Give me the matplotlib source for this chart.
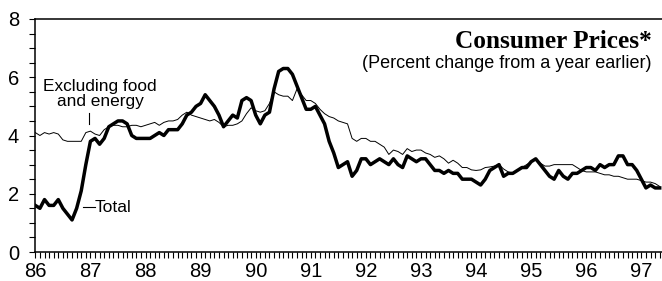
import numpy as np
import matplotlib
matplotlib.use("Agg")
import matplotlib.pyplot as plt
from matplotlib.ticker import MultipleLocator, FixedLocator
from matplotlib.lines import Line2D

# Monthly data, starting April 1986 (index 0) through August 1997
start_label = "1986-04"
total = [1.6, 1.5, 1.8, 1.6, 1.6, 1.8, 1.5, 1.3, 1.1,
         1.5, 2.1, 3.0, 3.8, 3.9, 3.7, 3.9, 4.3, 4.4, 4.5, 4.5, 4.4,
         4.0, 3.9, 3.9, 3.9, 3.9, 4.0, 4.1, 4.0, 4.2, 4.2, 4.2, 4.4,
         4.7, 4.8, 5.0, 5.1, 5.4, 5.2, 5.0, 4.7, 4.3, 4.5, 4.7, 4.6,
         5.2, 5.3, 5.2, 4.7, 4.4, 4.7, 4.8, 5.6, 6.2, 6.3, 6.3, 6.1,
         5.7, 5.3, 4.9, 4.9, 5.0, 4.7, 4.4, 3.8, 3.4, 2.9, 3.0, 3.1,
         2.6, 2.8, 3.2, 3.2, 3.0, 3.1, 3.2, 3.1, 3.0, 3.2, 3.0, 2.9,
         3.3, 3.2, 3.1, 3.2, 3.2, 3.0, 2.8, 2.8, 2.7, 2.8, 2.7, 2.7,
         2.5, 2.5, 2.5, 2.4, 2.3, 2.5, 2.8, 2.9, 3.0, 2.6, 2.7, 2.7,
         2.8, 2.9, 2.9, 3.1, 3.2, 3.0, 2.8, 2.6, 2.5, 2.8, 2.6, 2.5,
         2.7, 2.7, 2.8, 2.9, 2.9, 2.8, 3.0, 2.9, 3.0, 3.0, 3.3, 3.3,
         3.0, 3.0, 2.8, 2.5, 2.2, 2.3, 2.2, 2.2]

core = [4.1, 4.0, 4.1, 4.05, 4.1, 4.05, 3.85, 3.8, 3.8,
        3.8, 3.8, 4.1, 4.15, 4.05, 4.0, 4.2, 4.3, 4.35, 4.35, 4.3, 4.3,
        4.35, 4.35, 4.3, 4.35, 4.4, 4.45, 4.35, 4.45, 4.5, 4.5, 4.55, 4.7,
        4.8, 4.7, 4.65, 4.6, 4.55, 4.5, 4.55, 4.45, 4.3, 4.35, 4.35, 4.4,
        4.5, 4.75, 4.95, 4.85, 4.8, 4.85, 5.1, 5.5, 5.4, 5.35, 5.35, 5.2,
        5.6, 5.4, 5.2, 5.2, 5.1, 4.9, 4.75, 4.65, 4.6, 4.5, 4.45, 4.4,
        3.9, 3.8, 3.9, 3.9, 3.8, 3.8, 3.7, 3.6, 3.35, 3.5, 3.45, 3.35,
        3.55, 3.45, 3.5, 3.5, 3.4, 3.35, 3.25, 3.3, 3.2, 3.05, 3.15, 3.05,
        2.9, 2.9, 2.82, 2.8, 2.82, 2.9, 2.92, 2.95, 3.0, 2.85, 2.75, 2.7,
        2.8, 2.9, 3.0, 3.1, 3.2, 3.05, 2.95, 2.95, 3.0, 3.0, 3.0, 3.0,
        3.0, 2.9, 2.8, 2.75, 2.75, 2.75, 2.7, 2.65, 2.65, 2.6, 2.6, 2.55,
        2.5, 2.5, 2.5, 2.45, 2.4, 2.4, 2.35, 2.25]

year_labels = ["86", "87", "88", "89", "90", "91", "92", "93", "94", "95", "96", "97"]
y_labels = ["0", "2", "4", "6", "8"]

x = np.arange(len(total))

W, H = 662, 281
fig = plt.figure(figsize=(W / 100, H / 100), dpi=100)
ax = fig.add_axes([35 / W, 1 - 252 / H, 627 / W, (252 - 19) / H])

ax.plot(x, core, color="black", lw=0.7, solid_joinstyle="round")
ax.plot(x, total, color="black", lw=2.5, solid_joinstyle="round")

ax.set_xlim(-0.07, 136.5)
ax.set_ylim(0, 8)

for s in ["left", "bottom", "top"]:
    ax.spines[s].set_linewidth(1.1)
ax.spines["right"].set_visible(False)

font = "Liberation Sans"
ax.yaxis.set_major_locator(FixedLocator([0, 2, 4, 6, 8]))
ax.set_yticklabels(y_labels, fontsize=14.5, family=font)
ax.yaxis.set_minor_locator(MultipleLocator(0.5))
ax.tick_params(axis="y", which="both", direction="out", length=4.5, width=0.8, pad=7)

ax.xaxis.set_major_locator(FixedLocator([12 * i for i in range(len(year_labels))]))
ax.set_xticklabels(year_labels, fontsize=14.5, family=font)
ax.xaxis.set_minor_locator(MultipleLocator(1))
ax.tick_params(axis="x", which="both", direction="out", length=4.5, width=0.8, pad=3)

fig.text(652 / W, 1 - 41 / H, "Consumer Prices*", ha="right", va="center",
         fontsize=18.2, fontweight="bold", family="Liberation Serif")
fig.text(652 / W, 1 - 63 / H, "(Percent change from a year earlier)", ha="right",
         va="center", fontsize=13, family=font)

fig.text(100 / W, 1 - 94 / H, "Excluding food\nand energy", ha="center", va="center",
         fontsize=12.4, family=font, linespacing=1.0)
fig.add_artist(Line2D([89 / W, 89 / W], [1 - 113 / H, 1 - 124 / H], color="black", lw=0.8))

fig.add_artist(Line2D([83 / W, 95 / W], [1 - 207 / H, 1 - 207 / H], color="black", lw=0.8))
fig.text(95 / W, 1 - 207 / H, "Total", ha="left", va="center", fontsize=12.6, family=font)

fig.savefig("out.png", dpi=100)
